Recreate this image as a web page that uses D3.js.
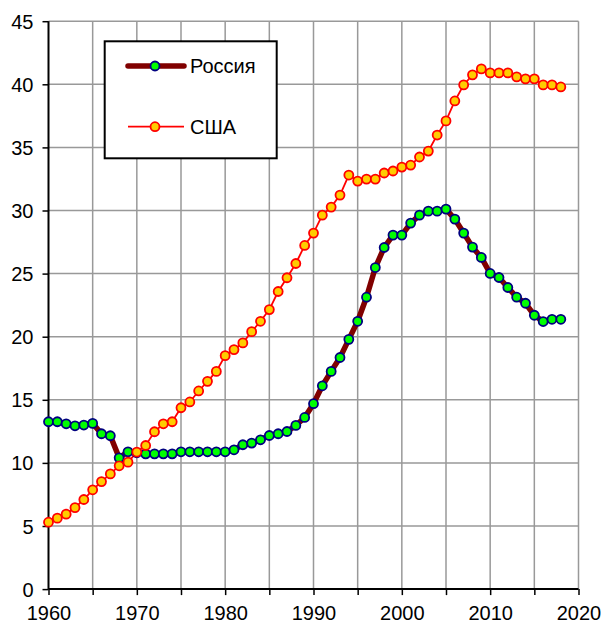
<!DOCTYPE html>
<html>
<head>
<meta charset="utf-8">
<script src="https://cdn.jsdelivr.net/npm/d3@7"></script>
<style>
  body { margin: 0; background: #fff; }
  svg { display: block; font-family: 'Liberation Sans', Arial, sans-serif; }
</style>
</head>
<body>
<svg id="chart" width="602" height="624"></svg>
<script>
const years = d3.range(1960, 2019)

const russia = [
  13.26, 13.26, 13.1, 12.94, 13.0, 13.13, 12.31, 12.15, 10.4, 10.88,
  10.8, 10.72, 10.72, 10.72, 10.72, 10.88, 10.88, 10.88, 10.88, 10.88,
  10.88, 11.04, 11.44, 11.57, 11.83, 12.17, 12.31, 12.49, 12.97, 13.6,
  14.69, 16.11, 17.25, 18.35, 19.79, 21.22, 23.13, 25.48, 27.07, 28.05,
  28.05, 29.0, 29.63, 29.95, 29.95, 30.11, 29.32, 28.21, 27.1, 26.28,
  25.01, 24.69, 23.9, 23.13, 22.65, 21.7, 21.2, 21.38, 21.38
]

const usa = [
  5.3, 5.62, 5.94, 6.46, 7.1, 7.87, 8.52, 9.13, 9.77, 10.06,
  10.86, 11.38, 12.47, 13.1, 13.26, 14.37, 14.83, 15.7, 16.46, 17.25,
  18.5, 18.98, 19.51, 20.4, 21.22, 22.15, 23.58, 24.67, 25.8, 27.23,
  28.21, 29.63, 30.27, 31.22, 32.81, 32.33, 32.49, 32.49, 32.97, 33.13,
  33.44, 33.6, 34.24, 34.71, 35.98, 37.1, 38.68, 39.95, 40.75, 41.22,
  40.9, 40.9, 40.9, 40.59, 40.43, 40.43, 39.95, 39.95, 39.79
]

const xTicks = d3.range(1960, 2021, 5)
const xLabels = d3.range(1960, 2021, 10)
const yTicks = d3.range(0, 46, 5)

const seriesNames = ['Россия', 'США']

const svg = d3.select('#chart')
const MARGINS = { left: 48.5, right: 23.5, top: 21.2, bottom: 34.9 }
const WIDTH = 602
const HEIGHT = 624

const xScale = d3.scaleLinear()
  .domain([1960, 2020])
  .range([MARGINS.left, WIDTH - MARGINS.right])
const yScale = d3.scaleLinear()
  .domain([0, 45])
  .range([HEIGHT - MARGINS.bottom, MARGINS.top])

// grid
const grid = svg.append('g').attr('stroke', '#999').attr('stroke-width', 1.5)
grid.selectAll('.vg').data(xTicks.slice(1))
  .enter().append('line')
  .attr('x1', d => xScale(d)).attr('x2', d => xScale(d))
  .attr('y1', yScale(45)).attr('y2', yScale(0))
grid.selectAll('.hg').data(yTicks.slice(1))
  .enter().append('line')
  .attr('x1', xScale(1960)).attr('x2', xScale(2020))
  .attr('y1', d => yScale(d)).attr('y2', d => yScale(d))

// axes
const xAxis = d3.axisBottom(xScale)
  .tickValues(xTicks)
  .tickSize(6)
  .tickFormat(d => (d % 10 === 0 ? d : ''))
const yAxis = d3.axisLeft(yScale)
  .tickValues(yTicks)
  .tickSize(6)

const gx = svg.append('g')
  .attr('transform', `translate(0, ${yScale(0)})`)
  .call(xAxis)
const gy = svg.append('g')
  .attr('transform', `translate(${xScale(1960)}, 0)`)
  .call(yAxis)

;[gx, gy].forEach(g => {
  g.select('.domain').attr('stroke', '#000').attr('stroke-width', 2)
  g.selectAll('.tick line').attr('stroke', '#000').attr('stroke-width', 1.5)
  g.selectAll('.tick text').attr('fill', '#000').attr('font-size', 20)
    .attr('font-family', "'Liberation Sans', Arial, sans-serif")
})
gx.select('.domain').attr('d', `M${xScale(1960)},0H${xScale(2020)}`)
gy.select('.domain').attr('d', `M0,${yScale(45)}V${yScale(0)}`)
gx.selectAll('.tick text').attr('dy', '0.71em').attr('y', 17)
gy.selectAll('.tick text').attr('x', -15).attr('dy', '0.35em')

const line = d3.line()
  .x((d, i) => xScale(years[i]))
  .y(d => yScale(d))

// Россия
svg.append('path')
  .attr('d', line(russia))
  .attr('fill', 'none')
  .attr('stroke', '#800000')
  .attr('stroke-width', 5.5)
  .attr('stroke-linejoin', 'round')

// США
svg.append('path')
  .attr('d', line(usa))
  .attr('fill', 'none')
  .attr('stroke', '#ff0000')
  .attr('stroke-width', 1.8)

svg.append('g').selectAll('circle').data(russia)
  .enter().append('circle')
  .attr('cx', (d, i) => xScale(years[i]))
  .attr('cy', d => yScale(d))
  .attr('r', 4.5)
  .attr('fill', '#00ff00')
  .attr('stroke', '#000080')
  .attr('stroke-width', 1.8)

svg.append('g').selectAll('circle').data(usa)
  .enter().append('circle')
  .attr('cx', (d, i) => xScale(years[i]))
  .attr('cy', d => yScale(d))
  .attr('r', 4.5)
  .attr('fill', '#ffcc00')
  .attr('stroke', '#ff0000')
  .attr('stroke-width', 1.8)

// legend
const legend = svg.append('g')
legend.append('rect')
  .attr('x', 104.7).attr('y', 41.3)
  .attr('width', 172).attr('height', 117)
  .attr('fill', '#fff').attr('stroke', '#000').attr('stroke-width', 2)

const legendItems = [
  { name: seriesNames[0], y: 66, stroke: '#800000', sw: 5.5, fill: '#00ff00', ms: '#000080' },
  { name: seriesNames[1], y: 126.7, stroke: '#ff0000', sw: 1.8, fill: '#ffcc00', ms: '#ff0000' }
]
legendItems.forEach(it => {
  legend.append('line')
    .attr('x1', 128).attr('x2', 184)
    .attr('y1', it.y).attr('y2', it.y)
    .attr('stroke', it.stroke).attr('stroke-width', it.sw)
    .attr('stroke-linecap', it.sw > 3 ? 'round' : 'butt')
  legend.append('circle')
    .attr('cx', 155).attr('cy', it.y).attr('r', 4.5)
    .attr('fill', it.fill).attr('stroke', it.ms).attr('stroke-width', 1.8)
  legend.append('text')
    .attr('x', 190).attr('y', it.y).attr('dy', '0.35em')
    .attr('font-size', 20).attr('fill', '#000')
    .text(it.name)
})
</script>
</body>
</html>
